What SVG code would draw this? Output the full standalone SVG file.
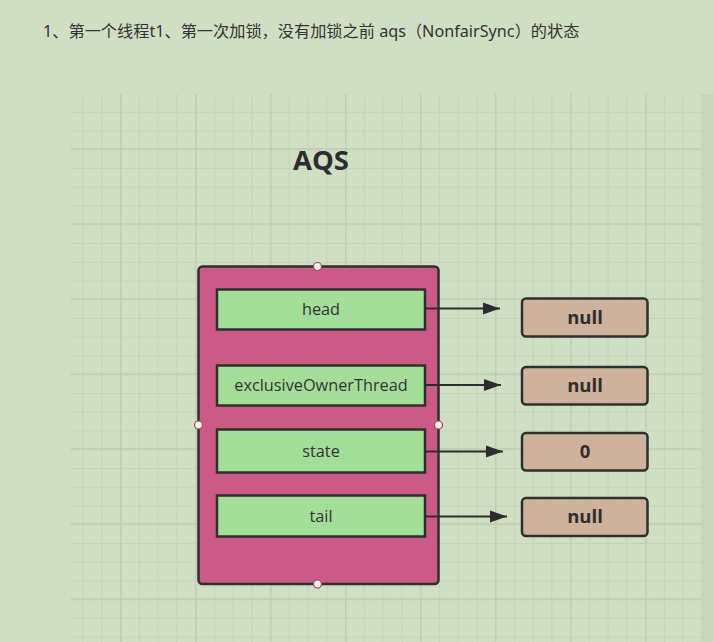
<svg xmlns="http://www.w3.org/2000/svg" width="713" height="642" viewBox="0 0 713 642">
<defs>
<pattern id="minor" patternUnits="userSpaceOnUse" x="7.55" y="-0.7" width="18.75" height="18.75">
<path d="M0 0.5H18.75M0.5 0V18.75" fill="none" stroke="#c2d3b7" stroke-width="1.2"/>
</pattern>
<pattern id="major" patternUnits="userSpaceOnUse" x="45.3" y="73.3" width="75" height="75">
<path d="M0 0.5H75M0.5 0V75" fill="none" stroke="#bacbb0" stroke-width="1.3"/>
</pattern>
<marker id="arr" viewBox="0 0 10 10" refX="10" refY="5" markerWidth="17" markerHeight="17" markerUnits="userSpaceOnUse" orient="auto">
<path d="M0 1.5L10 5L0 8.5Z" fill="#2d2d2d"/>
</marker>
<style>
.hdr{font-family:"Noto Sans","Noto Sans CJK SC",sans-serif;font-size:16.2px;fill:#333}
.field{fill:#a3de98;stroke:#2e302e;stroke-width:2.5}
.ftxt{font-family:"Open Sans","Noto Sans",sans-serif;font-size:16.3px;fill:#333;text-anchor:middle}
.val{fill:#cfb29b;stroke:#2e302e;stroke-width:2.5}
.vtxt{font-family:"Open Sans","Noto Sans",sans-serif;font-size:18.5px;font-weight:bold;fill:#2d2d2d;text-anchor:middle}
.port{fill:#f5efe8;stroke:#9b4a4a;stroke-width:1.2}
.conn{fill:none;stroke:#2d2d2d;stroke-width:2}
</style>
</defs>
<rect width="713" height="642" fill="#cfdfc4"/>
<rect x="71" y="94" width="631" height="548" fill="url(#minor)"/>
<rect x="71" y="94" width="631" height="548" fill="url(#major)"/>
<rect x="702" y="94" width="11" height="548" fill="#c5d6bb"/>
<text class="hdr" x="43" y="37">1、第一个线程t1、第一次加锁，没有加锁之前 aqs（NonfairSync）的状态</text>
<text x="321" y="170" font-family="'Open Sans','Noto Sans',sans-serif" font-size="27.5" font-weight="bold" fill="#2d2d2d" text-anchor="middle">AQS</text>
<g id="aqs">
<rect x="198.5" y="266.5" width="240" height="317.5" rx="4" fill="#cc5a87" stroke="#2e302e" stroke-width="2.5"/>
<circle class="port" cx="317.5" cy="266.5" r="4"/>
<circle class="port" cx="198.5" cy="425" r="4"/>
<circle class="port" cx="438.5" cy="425" r="4"/>
<circle class="port" cx="317.5" cy="584" r="4"/>
</g>
<g id="head"><rect class="field" x="217" y="289.5" width="208" height="40"/><text class="ftxt" x="321" y="315">head</text></g>
<g id="exclusiveOwnerThread"><rect class="field" x="217" y="365.5" width="208" height="40"/><text class="ftxt" x="321" y="391">exclusiveOwnerThread</text></g>
<g id="state"><rect class="field" x="217" y="429.5" width="208" height="43"/><text class="ftxt" x="321" y="457">state</text></g>
<g id="tail"><rect class="field" x="217" y="495.5" width="208" height="41"/><text class="ftxt" x="321" y="522">tail</text></g>
<g id="connectors">
<line class="conn" x1="425" y1="308.5" x2="500" y2="308.5" marker-end="url(#arr)"/>
<line class="conn" x1="425" y1="385" x2="501" y2="385" marker-end="url(#arr)"/>
<line class="conn" x1="425" y1="451.5" x2="503" y2="451.5" marker-end="url(#arr)"/>
<line class="conn" x1="425" y1="516.5" x2="507" y2="516.5" marker-end="url(#arr)"/>
</g>
<g id="v_head"><rect class="val" x="522" y="298.5" width="125.5" height="38" rx="4"/><text class="vtxt" x="585" y="324">null</text></g>
<g id="v_owner"><rect class="val" x="522" y="367" width="125.5" height="37.5" rx="4"/><text class="vtxt" x="585" y="392">null</text></g>
<g id="v_state"><rect class="val" x="522" y="433" width="125.5" height="37.5" rx="4"/><text class="vtxt" x="585" y="458">0</text></g>
<g id="v_tail"><rect class="val" x="522" y="498" width="125.5" height="38" rx="4"/><text class="vtxt" x="585" y="523">null</text></g>
</svg>
